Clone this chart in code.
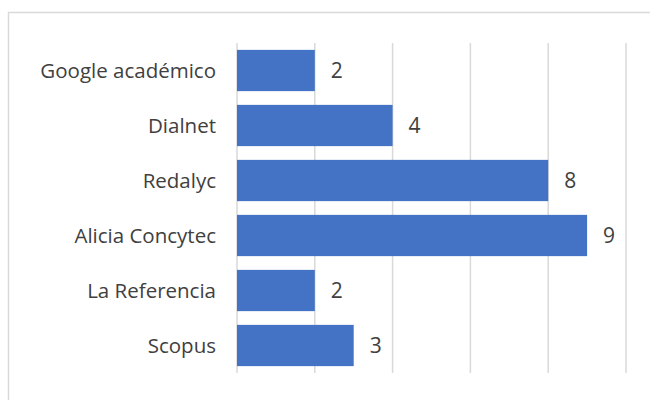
<!DOCTYPE html>
<html>
<head>
<meta charset="utf-8">
<script src="https://cdn.jsdelivr.net/npm/d3@7"></script>
<style>
  body { margin: 0; background: #fff; }
  text { font-family: "Open Sans", sans-serif; fill: #404040; }
</style>
</head>
<body>
<script>
const width = 650,
  height = 400,
  margin = { top: 43, right: 24, bottom: 27, left: 237 };

const categories = ["Google académico", "Dialnet", "Redalyc", "Alicia Concytec", "La Referencia", "Scopus"];
const values = [2, 4, 8, 9, 2, 3];
const ticks = [0, 2, 4, 6, 8, 10];

const svg = d3
  .select("body")
  .append("svg")
  .attr("width", width)
  .attr("height", height);

// chart frame
svg
  .append("rect")
  .attr("x", 8.5)
  .attr("y", 12.5)
  .attr("width", 700)
  .attr("height", 500)
  .attr("fill", "none")
  .attr("stroke", "#d9d9d9")
  .attr("stroke-width", 1.5);

const x = d3
  .scaleLinear()
  .domain([0, 10])
  .range([margin.left, width - margin.right]);

const y = d3
  .scaleBand()
  .domain(categories)
  .range([margin.top, height - margin.bottom])
  .paddingInner(0.25)
  .paddingOuter(0.125);

// vertical gridlines
svg
  .selectAll(".grid")
  .data(ticks)
  .enter()
  .append("line")
  .attr("class", "grid")
  .attr("x1", (d) => x(d))
  .attr("x2", (d) => x(d))
  .attr("y1", margin.top)
  .attr("y2", height - margin.bottom)
  .attr("stroke", "#d9d9d9")
  .attr("stroke-width", 1.5);

// bars
svg
  .selectAll(".bar")
  .data(values)
  .enter()
  .append("rect")
  .attr("class", "bar")
  .attr("x", x(0))
  .attr("y", (d, i) => y(categories[i]))
  .attr("width", (d) => x(d) - x(0))
  .attr("height", y.bandwidth())
  .attr("fill", "#4472c4");

// value labels
svg
  .selectAll(".value")
  .data(values)
  .enter()
  .append("text")
  .attr("class", "value")
  .attr("x", (d) => x(d) + 16)
  .attr("y", (d, i) => y(categories[i]) + y.bandwidth() / 2)
  .attr("dy", "0.36em")
  .style("font-size", "21px")
  .text((d) => d);

// category labels
svg
  .selectAll(".cat")
  .data(categories)
  .enter()
  .append("text")
  .attr("class", "cat")
  .attr("x", margin.left - 21)
  .attr("y", (d) => y(d) + y.bandwidth() / 2)
  .attr("dy", "0.36em")
  .attr("text-anchor", "end")
  .style("font-size", "20.5px")
  .text((d) => d);
</script>
</body>
</html>
